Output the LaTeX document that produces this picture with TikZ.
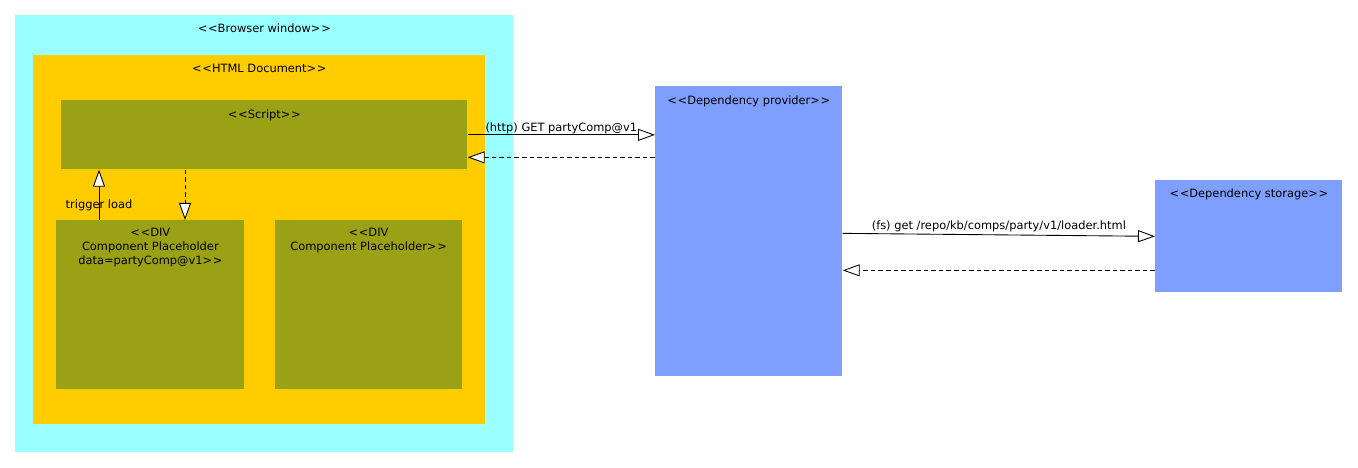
\documentclass[tikz,border=0pt]{standalone}
\usepackage{fontspec}
\setmainfont{DejaVu Sans}
\usetikzlibrary{positioning, arrows.meta}

\definecolor{browsercol}{HTML}{99FFFF}
\definecolor{doccol}{HTML}{FFCC00}
\definecolor{olivecol}{HTML}{9BA114}
\definecolor{depcol}{HTML}{7F9FFF}
\newcommand{\stereo}[1]{<\kern0.4pt<#1>\kern0.4pt>}

\begin{document}
\begin{tikzpicture}[node distance=0.6cm and 0.6cm, font=\fontsize{6.5}{8}\selectfont]
		% Styles
		\tikzstyle{block} = [rectangle, anchor=north west, inner sep=0pt, draw=none]
		\tikzstyle{title} = [anchor=north, align=center, inner sep=0pt]
		\tikzstyle{line} = [draw, line width=0.5pt, -{Triangle[fill=white, length=0.34cm, width=0.24cm]}]
		\tikzstyle{reply} = [line, dash pattern=on 2.6pt off 1.7pt]

		\useasboundingbox (0,0) rectangle (27.16,-9.36);

		% Nodes
		\node [block, fill=browsercol, minimum width=9.96cm, minimum height=8.74cm,
		label={[title, yshift=-0.17cm]north:\stereo{Browser window}}] (browser) at (0.30,-0.30) {};
		\node [block, fill=doccol, minimum width=9.04cm, minimum height=7.38cm,
		label={[title, yshift=-0.18cm]north:\stereo{HTML Document}}] (document) at (0.66,-1.10) {};
		\node [block, fill=olivecol, minimum width=8.12cm, minimum height=1.38cm,
		label={[title, yshift=-0.18cm]north:\stereo{Script}}] (script) at (1.22,-2.00) {};
		\node [block, fill=olivecol, minimum width=3.76cm, minimum height=3.38cm,
		label={[title, yshift=-0.16cm]north:\stereo{DIV\\Component Placeholder\\data=partyComp@v1}}] (div1) at (1.12,-4.40) {};
		\node [block, fill=olivecol, minimum width=3.74cm, minimum height=3.38cm, right=of div1,
		label={[title, yshift=-0.16cm]north:\stereo{DIV\\Component Placeholder}}] (div2) {};
		\node [block, fill=depcol, minimum width=3.74cm, minimum height=5.80cm,
		label={[title, yshift=-0.18cm]north:\stereo{Dependency provider}}] (provider) at (13.10,-1.72) {};
		\node [block, fill=depcol, minimum width=3.74cm, minimum height=2.24cm,
		label={[title, yshift=-0.16cm]north:\stereo{Dependency storage}}] (storage) at (23.10,-3.60) {};

		% Connections
		\path [line] ([xshift=0.86cm]div1.north west) -- ([xshift=0.86cm]div1.north west |- script.south)
			node [pos=0.3, inner sep=0pt] {trigger load};
		\path [reply] ([xshift=2.58cm]div1.north west |- script.south) -- ([xshift=2.58cm]div1.north west);
		\path [line] (script.east) -- (script.east -| provider.west)
			node [midway, above, inner sep=0.5pt] {(http) GET partyComp@v1};
		\path [reply] ([yshift=-0.45cm]script.east -| provider.west) -- ([yshift=-0.45cm]script.east);
		\path [line] ([yshift=-0.04cm]provider.east) -- (storage.west)
			node [midway, above, inner sep=1.5pt] {(fs) get /repo/kb/comps/party/v1/loader.html};
		\path [reply] ([yshift=-0.68cm]storage.west) -- ([yshift=-0.68cm]storage.west -| provider.east);
	\end{tikzpicture}
\end{document}
